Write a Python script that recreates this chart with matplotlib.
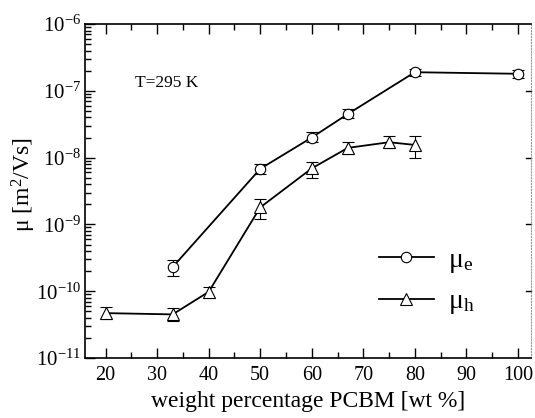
import math
import matplotlib
matplotlib.use("Agg")
import matplotlib.pyplot as plt
from matplotlib.ticker import FixedLocator, FuncFormatter, NullFormatter

plt.rcParams["font.family"] = ["Liberation Serif", "DejaVu Serif"]
plt.rcParams["mathtext.fontset"] = "custom"
plt.rcParams["mathtext.rm"] = "Liberation Serif"
plt.rcParams["mathtext.it"] = "Liberation Serif:italic"

# electron mobility
wt_e = [33, 50, 60, 67, 80, 100]
mu_e = [2.3e-10, 6.8e-9, 2.0e-8, 4.5e-8, 1.9e-7, 1.8e-7]
mu_e_lo = [1.7e-10, 5.6e-9, 1.7e-8, 3.9e-8, 1.65e-7, 1.57e-7]
mu_e_hi = [2.9e-10, 8.0e-9, 2.4e-8, 5.3e-8, 2.15e-7, 2.05e-7]

# hole mobility
wt_h = [20, 33, 40, 50, 60, 67, 75, 80]
mu_h = [4.7e-11, 4.5e-11, 9.8e-11, 1.8e-9, 6.9e-9, 1.4e-8, 1.7e-8, 1.55e-8]
mu_h_lo = [3.8e-11, 3.6e-11, 7.8e-11, 1.2e-9, 5.0e-9, 1.15e-8, 1.4e-8, 1.0e-8]
mu_h_hi = [5.8e-11, 5.6e-11, 1.15e-10, 2.4e-9, 8.5e-9, 1.7e-8, 2.1e-8, 2.1e-8]

decades = [-11, -10, -9, -8, -7, -6]

fig = plt.figure(figsize=(5.35, 4.18), dpi=100)
ax = fig.add_axes([0.159, 0.1435, 0.834, 0.799])


def draw(x, y, lo, hi, marker, label):
    yerr = [[v - l for v, l in zip(y, lo)], [h - v for v, h in zip(y, hi)]]
    ax.errorbar(x, y, yerr=yerr, fmt="none", ecolor="black", elinewidth=0.8,
                capsize=4, capthick=0.8, zorder=2)
    ax.plot(x, y, "-", color="black", lw=1.3, marker=marker, ms=8 if marker == "^" else 7.5,
            mfc="white", mec="black", mew=0.8, label=label, zorder=3)


draw(wt_e, mu_e, mu_e_lo, mu_e_hi, "o", "μ$_\\mathregular{e}$")
draw(wt_h, mu_h, mu_h_lo, mu_h_hi, "^", "μ$_\\mathregular{h}$")

ax.set_yscale("log")
ax.set_xlim(16, 102.6)
ax.set_ylim(1e-11, 1e-6)

ax.xaxis.set_major_locator(FixedLocator(range(20, 101, 10)))
ax.xaxis.set_minor_locator(FixedLocator(range(25, 101, 10)))
ax.yaxis.set_major_locator(FixedLocator([10.0 ** k for k in decades]))
ax.yaxis.set_minor_locator(FixedLocator([m * 10.0 ** k for k in decades[:-1] for m in range(2, 10)]))
ax.yaxis.set_major_formatter(FuncFormatter(lambda v, p: r"$\mathregular{10^{%d}}$" % round(math.log10(v))))
ax.yaxis.set_minor_formatter(NullFormatter())

ax.tick_params(which="both", direction="in", top=True, right=False, width=1)
ax.tick_params(which="major", length=7, pad=6)
ax.tick_params(which="minor", length=4)
ax.tick_params(axis="x", which="major", labelsize=14.5)
ax.tick_params(axis="y", which="major", labelsize=15, pad=3)

for side in ("left", "bottom", "top"):
    ax.spines[side].set_linewidth(1.2)
ax.spines["right"].set_linestyle(":")
ax.spines["right"].set_color("#999999")
ax.spines["right"].set_linewidth(0.8)

# short decade marks on the right edge
for k in decades[1:-1]:
    ax.plot([101.6, 102.6], [10.0 ** k, 10.0 ** k], color="black", lw=1, clip_on=False)

ax.set_xlabel("weight percentage PCBM [wt %]", fontsize=17, labelpad=4)
ax.set_ylabel("μ [m$^\\mathregular{2}$/Vs]", fontsize=17)
ax.yaxis.set_label_coords(-0.105, 0.52)

ax.text(0.113, 0.81, "T=295 K", transform=ax.transAxes, fontsize=12.5)

ax.legend(loc="center left", bbox_to_anchor=(0.658, 0.228), frameon=False,
          fontsize=20, handlelength=2.0, handletextpad=0.5, labelspacing=0.5,
          borderpad=0, borderaxespad=0)

fig.savefig("out.png", dpi=100)
